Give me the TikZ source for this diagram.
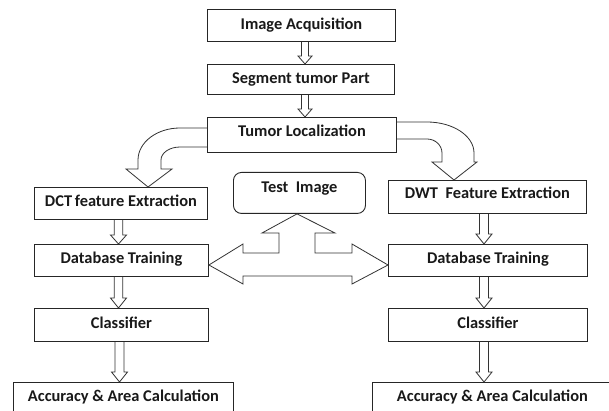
\documentclass[tikz,border=0pt]{standalone}
\usepackage{fontspec}
\setmainfont{Carlito}
\usetikzlibrary{calc}
\begin{document}
\begin{tikzpicture}[x=1pt,y=-1pt,
  line join=miter,
  boxst/.style={draw=black!85, line width=0.9pt, inner sep=0pt, anchor=north west,
     font=\fontsize{16.4}{18}\selectfont\bfseries, text=black!90, align=center},
  arr/.style={draw=black!80, line width=0.8pt}]
\useasboundingbox (0,0) rectangle (609,411);
\fill[white] (0,0) rectangle (609,411);
\begin{scope}
\clip (0,0) rectangle (609,411);
% boxes: minimum width, text height, text depth set from measured positions
\node[boxst, minimum width=188pt, text height=20pt, text depth=12pt] (ia) at (207,9) {Image Acquisition};
\node[boxst, minimum width=187pt, text height=19pt, text depth=11pt] (seg) at (207,64) {Segment tumor Part};
\node[boxst, minimum width=189pt, text height=19pt, text depth=16pt] (tl) at (207,117) {Tumor Localization};
\node[boxst, minimum width=173pt, text height=19pt, text depth=13pt] (dct) at (34,187) {DCT\,feature Extraction};
\node[boxst, minimum width=198pt, text height=18pt, text depth=15pt] (dwt) at (388,180) {DWT\ \ Feature Extraction};
\node[boxst, rounded corners=8pt, minimum width=132pt, text height=20pt, text depth=21pt] (test) at (233,172) {Test\ \ Image};
\node[boxst, minimum width=174pt, text height=19pt, text depth=13pt] (db1) at (34,244) {Database Training};
\node[boxst, minimum width=199pt, text height=19pt, text depth=13pt] (db2) at (388,244) {Database Training};
\node[boxst, minimum width=174pt, text height=20pt, text depth=13pt] (cl1) at (34,308) {Classifier};
\node[boxst, minimum width=199pt, text height=20pt, text depth=13pt] (cl2) at (388,308) {Classifier};
\node[boxst, minimum width=220pt, text height=19pt, text depth=14pt] (acc1) at (13,382) {Accuracy \& Area Calculation};
\node[boxst, minimum width=240pt, text height=19pt, text depth=14pt] (acc2) at (372,382) {Accuracy \& Area Calculation};

% thin double-line arrows
\newcommand{\dlarrow}[5]{% start, tip, shaft half width, head half width, head length
  \draw[arr] let \p1=(#1), \p2=(#2) in
    (\x1-#3pt,\y1) -- (\x1-#3pt,\y2+#5pt) -- (\x1-#4pt,\y2+#5pt) -- (\x1,\y2)
    -- (\x1+#4pt,\y2+#5pt) -- (\x1+#3pt,\y2+#5pt) -- (\x1+#3pt,\y1);}
\dlarrow{ia.south -| 305,0}{seg.north -| 305,0}{3.5}{7}{8}
\dlarrow{seg.south -| 305,0}{tl.north -| 305,0}{3.5}{7}{8}
\dlarrow{dct.south -| 118.5,0}{db1.north -| 118.5,0}{4.2}{8}{9}
\dlarrow{db1.south -| 118.5,0}{cl1.north -| 118.5,0}{4.2}{8}{10}
\dlarrow{cl1.south -| 119.5,0}{acc1.north -| 119.5,0}{4.5}{8}{10}
\dlarrow{dwt.south -| 484,0}{db2.north -| 484,0}{4.5}{8}{10}
\dlarrow{db2.south -| 484,0}{cl2.north -| 484,0}{4.5}{8}{10}
\dlarrow{cl2.south -| 484,0}{acc2.north -| 484,0}{4.5}{8}{10}

% curved block arrow to the left
\draw[arr] (tl.west |- 0,128) -- (180,128)
   arc[start angle=270, end angle=180, x radius=42, y radius=32]
   -- (138,169) -- (126,169) -- (dct.north -| 148,0) -- (172,169) -- (161,169) -- (161,160)
   arc[start angle=180, end angle=270, x radius=19, y radius=13]
   -- (tl.west |- 0,147);
% curved block arrow to the right
\draw[arr] (tl.east |- 0,122) -- (427,122)
   arc[start angle=-90, end angle=0, x radius=47, y radius=31]
   -- (474,162) -- (477,162) -- (dwt.north -| 454,0) -- (432,162) -- (442,162) -- (442,153)
   arc[start angle=0, end angle=-90, x radius=15, y radius=14]
   -- (tl.east |- 0,139);

% double-headed T arrow from test image
\draw[arr] (test.south -| 297,0) -- (335,233) -- (315,233) -- (315,253) -- (352,253) -- (352,244)
   -- (db2.west |- 0,265) -- (352,284) -- (352,276) -- (243,276) -- (243,284)
   -- (db1.east |- 0,265) -- (243,244) -- (243,253) -- (279,253) -- (279,233) -- (262,233) -- cycle;
\end{scope}
\end{tikzpicture}
\end{document}
